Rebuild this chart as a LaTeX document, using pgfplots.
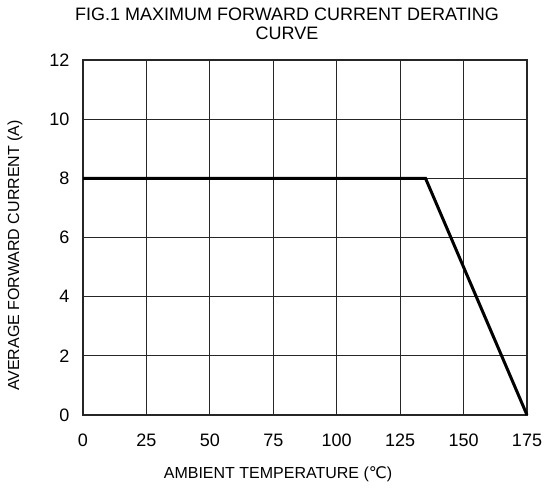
\documentclass[border=0pt]{standalone}
\usepackage{fontspec}
\setmainfont{Liberation Sans}
\newfontfamily\dejavu{DejaVu Sans}
\usepackage{pgfplots}
\pgfplotsset{compat=1.18}

\begin{document}
\begin{tikzpicture}
\begin{axis}[
  name=ax,
  width=444pt, height=355pt, scale only axis,
  xmin=0, xmax=175, ymin=0, ymax=12,
  xtick={0,25,...,175}, ytick={0,2,...,12},
  major tick length=0pt,
  grid=major,
  grid style={black!85, line width=1pt},
  axis line style={black!85, line width=1.2pt},
  ticklabel style={font=\fontsize{18}{20}\selectfont},
  /pgf/number format/assume math mode=true,
  xticklabel style={anchor=base, yshift=-31pt},
  yticklabel style={xshift=-10pt},
  clip=false,
]
\addplot[black, line width=3pt, line join=miter] coordinates {(0,8) (135,8) (175,0)};
\end{axis}
\node[font=\fontsize{18}{19}\selectfont, align=center, anchor=center] at ([xshift=-18pt, yshift=36pt]ax.north) {FIG.1 MAXIMUM FORWARD CURRENT DERATING\\CURVE};
\node[font=\fontsize{16}{18}\selectfont, anchor=center] at ([xshift=-27pt, yshift=-59pt]ax.south) {AMBIENT TEMPERATURE ({\dejavu ℃})};
\node[font=\fontsize{16}{18}\selectfont, anchor=center, rotate=90] at ([xshift=-68pt, yshift=-18pt]ax.west) {AVERAGE FORWARD CURRENT (A)};
\pgfresetboundingbox
\path[use as bounding box] ([shift={(-83pt,-75pt)}]ax.south west) rectangle ([shift={(18pt,60pt)}]ax.north east);
\end{tikzpicture}
\end{document}
